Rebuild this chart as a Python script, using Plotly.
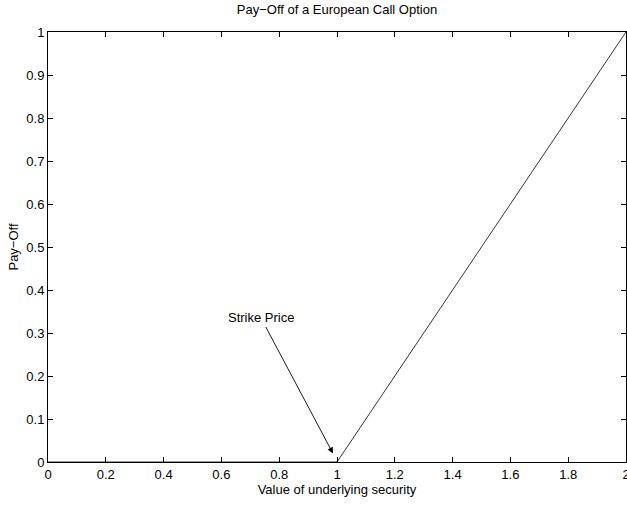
import plotly.graph_objects as go

# Data
underlying = [0, 1, 2]
payoff = [0, 0, 1]
x_ticks = [0, 0.2, 0.4, 0.6, 0.8, 1, 1.2, 1.4, 1.6, 1.8, 2]
x_tick_labels = ["0", "0.2", "0.4", "0.6", "0.8", "1", "1.2", "1.4", "1.6", "1.8", "2"]
y_ticks = [0, 0.1, 0.2, 0.3, 0.4, 0.5, 0.6, 0.7, 0.8, 0.9, 1]
y_tick_labels = ["0", "0.1", "0.2", "0.3", "0.4", "0.5", "0.6", "0.7", "0.8", "0.9", "1"]
annotation_text = "Strike Price"
annotation_tail = (0.737, 0.335)
annotation_head = (0.986, 0.02)

FONT = "Liberation Sans, Arial, Helvetica, sans-serif"
FS = 13

fig = go.Figure()
fig.add_trace(go.Scatter(x=underlying, y=payoff, mode="lines",
                         line=dict(color="black", width=0.8),
                         showlegend=False, hoverinfo="skip"))

fig.add_annotation(x=annotation_head[0], y=annotation_head[1], xref="x", yref="y",
                   ax=annotation_tail[0], ay=annotation_tail[1], axref="x", ayref="y",
                   text=annotation_text, showarrow=True, arrowhead=2, arrowsize=1.3,
                   arrowwidth=0.9, arrowcolor="black",
                   font=dict(family=FONT, size=FS, color="black"))

axis_common = dict(showline=True, linecolor="black", linewidth=1, mirror="ticks",
                   ticks="inside", ticklen=5, tickcolor="black", tickwidth=1,
                   showgrid=False, zeroline=False, ticklabeloverflow="allow",
                   tickfont=dict(family=FONT, size=FS, color="black"))

fig.update_xaxes(range=[0, 2], tickmode="array", tickvals=x_ticks, ticktext=x_tick_labels,
                 title=dict(text="Value of underlying security", standoff=0,
                            font=dict(family=FONT, size=FS, color="black")),
                 **axis_common)
fig.update_yaxes(range=[0, 1], tickmode="array", tickvals=y_ticks, ticktext=y_tick_labels,
                 title=dict(text="Pay\u2212Off", standoff=4,
                            font=dict(family=FONT, size=FS, color="black")),
                 **axis_common)

fig.update_layout(
    width=627, height=523,
    margin=dict(l=48, r=1, t=32, b=61, autoexpand=False),
    paper_bgcolor="white", plot_bgcolor="white",
    title=dict(text="Pay\u2212Off of a European Call Option", x=0.5, xref="paper",
               y=1 - 9 / 523, yref="container", yanchor="middle",
               font=dict(family=FONT, size=FS, color="black")),
)

fig.write_html("out.html")
